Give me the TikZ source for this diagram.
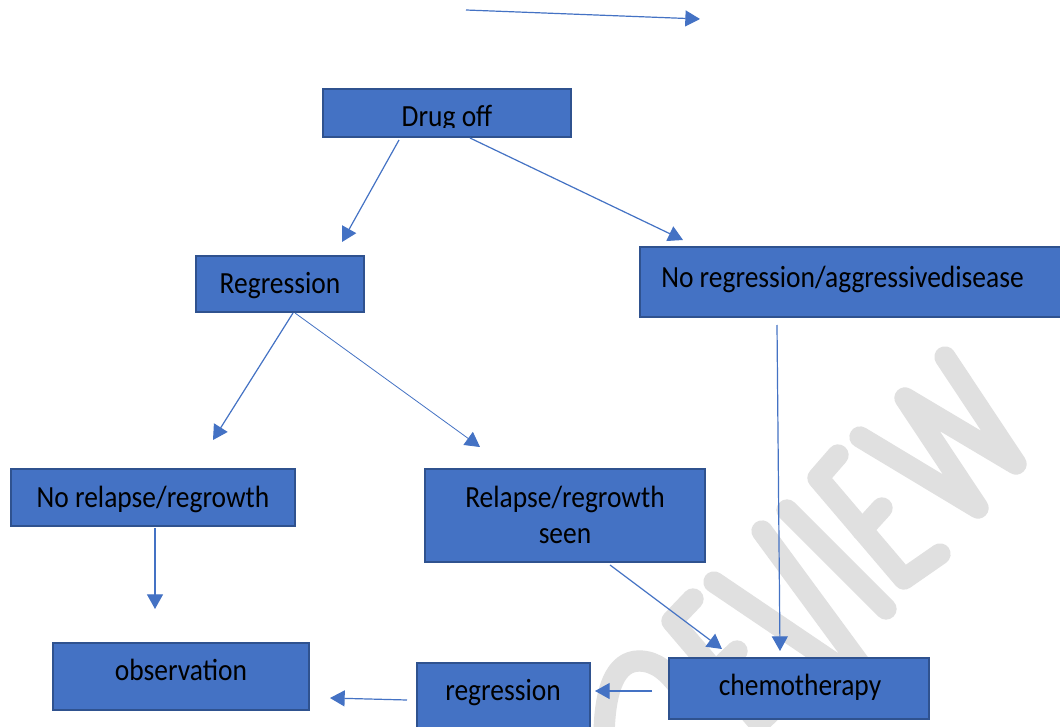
\documentclass[tikz,border=0pt]{standalone}
\usepackage{fontspec}
\usepackage{graphicx}
\newfontfamily\cfont{Carlito}
\usetikzlibrary{arrows.meta,calc}
\definecolor{boxfill}{HTML}{4472C4}
\definecolor{boxline}{HTML}{2F528F}
\definecolor{arrowc}{HTML}{4472C4}
\definecolor{wmark}{HTML}{E0E0E0}
\newcommand\stretchtxt[1]{\scalebox{1}[1.12]{#1}}
\begin{document}
\begin{tikzpicture}[x=0.75pt,y=-0.75pt,
  box/.style={rectangle, draw=boxline, fill=boxfill, line width=1.5pt, inner sep=0pt, outer sep=0pt},
  sz/.style 2 args={minimum width=#1*0.75pt, minimum height=#2*0.75pt},
  lbl/.style={anchor=base, inner sep=0pt, font={\cfont\fontsize{20.6}{24}\selectfont}, text=black},
  arr/.style={draw=arrowc, line width=0.9pt, -{Triangle[length=11pt,width=12pt]}},
  wm/.style={draw=wmark, line width=16pt, line cap=round, line join=round}]
\useasboundingbox (0,0) rectangle (1060,727);
\clip (0,0) rectangle (1060,727);
\fill[white] (0,0) rectangle (1060,727);
% watermark
\draw[wm] (860,437) -- (978,508) -- (905,398) -- (1016,464) -- (945,357);
\draw[wm] (838,455) -- (818,478) -- (904,579) -- (940,554);
\draw[wm] (862,530) -- (882,508);
\draw[wm] (787,510) -- (886,609);
\draw[wm] (714,582) -- (884,697) -- (762,531);
\draw[wm] (693,599) -- (672,621) -- (759,723) -- (794,690);
\draw[wm] (715,672) -- (737,651);
\draw[wm] (604,740) .. controls (604,688) and (616,661) .. (639,661) .. controls (656,661) and (668,672) .. (680,688);
% boxes
\node[box, sz={248}{48}] (drug) at (447,113) {};
\begin{scope}
\clip (323,89) rectangle (571,127.5);
\node[lbl] (drugtxt) at (447,126.5) {\stretchtxt{Drug off}};
\end{scope}
\node[box, sz={168}{56}] (reg) at (280,284) {};
\node[lbl] (regtxt) at (280,294) {\stretchtxt{Regression}};
\node[box, sz={424}{70}] (noreg) at (852,282) {};
\node[lbl, anchor=base west] (noregtxt) at (661,287) {\stretchtxt{No regression/aggressivedisease}};
\node[box, sz={284}{57}] (norel) at (153,497.5) {};
\node[lbl] (noreltxt) at (153,507) {\stretchtxt{No relapse/regrowth}};
\node[box, sz={280}{93}] (rel) at (565,515.5) {};
\node[lbl] (reltxta) at (565,507) {\stretchtxt{Relapse/regrowth}};
\node[lbl] (reltxtb) at (565,543) {\stretchtxt{seen}};
\node[box, sz={256}{67}] (obs) at (181,676.5) {};
\node[lbl] (obstxt) at (181,680) {\stretchtxt{observation}};
\node[box, sz={173}{82}] (regb) at (503.5,704) {};
\node[lbl] (regbtxt) at (503,700) {\stretchtxt{regression}};
\node[box, sz={260}{61}] (chemo) at (799,688.5) {};
\node[lbl] (chemotxt) at (800,695) {\stretchtxt{chemotherapy}};
% connectors
\coordinate (t1) at (466,10);
\coordinate (t2) at (700,19);
\draw[arr] (t1) -- (t2);
\draw[arr] ($(drug.south)+(-48,3)$) -- ($(reg.north)+(62,-14)$);
\draw[arr] ($(drug.south)+(23,1)$) -- ($(noreg.north west)+(43,-7)$);
\draw[arr] ($(reg.south)+(13,1)$) -- ($(norel.north)+(60,-29)$);
\draw[arr, line width=0.6pt] ($(reg.south)+(15,1)$) -- ($(rel.north)+(-85,-22)$);
\draw[arr] ($(noreg.south west)+(137,8)$) -- ($(chemo.north)+(-19,-7)$);
\draw[arr] ($(rel.south)+(45,3)$) -- ($(chemo.north)+(-77,-9)$);
\draw[arr] ($(norel.south)+(2,2)$) -- ($(obs.north)+(-26,-34)$);
\draw[arr] ($(chemo.west)+(-17,2.5)$) -- ($(regb.north east)+(5,28)$);
\draw[arr] ($(regb.north west)+(-10,37)$) -- ($(obs.east)+(21,21.5)$);
\end{tikzpicture}
\end{document}
